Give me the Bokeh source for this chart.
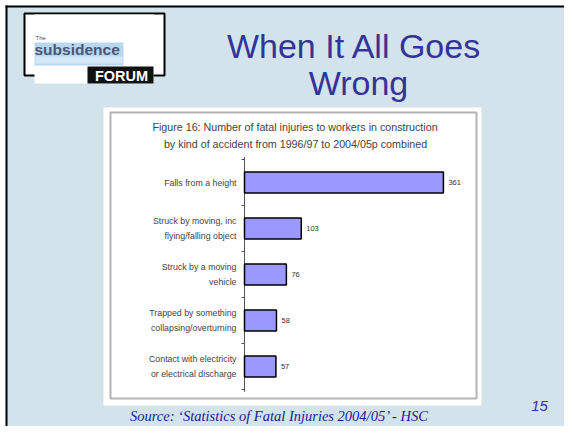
from bokeh.plotting import figure
from bokeh.models import Range1d
from bokeh.core.properties import value
from bokeh.embed import file_html
from bokeh.resources import INLINE

# ---- data ----
categories = [
    "Falls from a height",
    "Struck by moving, inc\nflying/falling object",
    "Struck by a moving\nvehicle",
    "Trapped by something\ncollapsing/overturning",
    "Contact with electricity\nor electrical discharge",
]
fatalities = [361, 103, 76, 58, 57]
title_lines = ["When It All Goes", "Wrong"]
chart_title = ["Figure 16:  Number of fatal injuries to workers in construction",
               "by kind of accident from 1996/97 to 2004/05p combined"]
source_text = "Source: \u2018Statistics of Fatal Injuries 2004/05\u2019  - HSC"
page_number = "15"

# ---- layout (canvas pixels) ----
W, H = 564, 426
AXIS_X = 244          # pixel of value 0
PX_PER_UNIT = 0.551   # pixels per fatality
CAT0_Y = 182          # pixel centre of first category
CAT_STEP = 46         # pixels per category band

BG = "#d3e3eb"
TITLE_BLUE = "#333399"

p = figure(width=W, height=H, x_range=Range1d(0, W), y_range=Range1d(H, 0),
           output_backend="svg", toolbar_location=None, min_border=0,
           outline_line_color=None)
p.axis.visible = False
p.grid.visible = False
p.background_fill_color = "white"
p.border_fill_color = "white"

p.extra_x_ranges = {"val": Range1d(-AXIS_X / PX_PER_UNIT, (W - AXIS_X) / PX_PER_UNIT)}
p.extra_y_ranges = {"cat": Range1d((H - CAT0_Y) / CAT_STEP, -CAT0_Y / CAT_STEP)}

# slide background with border (top/left edges visible)
p.quad(left=[6], right=[W + 20], top=[6], bottom=[H + 20],
       fill_color=BG, line_color=None)
p.segment(x0=[5, 6], x1=[W + 20, 6], y0=[6, 5], y1=[6, H + 20],
          line_color="black", line_width=2)

# logo
p.quad(left=[24], right=[164], top=[13], bottom=[75],
       fill_color="white", line_color="black", line_width=2)
p.quad(left=[34], right=[153], top=[14], bottom=[83], fill_color="white", line_color=None)
p.quad(left=[34], right=[123], top=[42], bottom=[65], fill_color="#b8d8f2", line_color=None)
p.quad(left=[35], right=[122], top=[56], bottom=[63], fill_color="#d6e8f6", line_color=None)
p.text(x=[35], y=[37], text=["The"], text_font=value("Liberation Sans"),
       text_font_size="6px", text_color="#555555", text_baseline="middle")
p.text(x=[34], y=[49], text=["subsidence"], text_font=value("Liberation Sans"),
       text_font_size="15.5px", text_font_style="bold", text_color="#4a5672",
       text_baseline="middle")
p.quad(left=[87], right=[153], top=[66], bottom=[83], fill_color="#111111", line_color=None)
p.text(x=[121], y=[75], text=["FORUM"], text_font=value("Liberation Sans"),
       text_font_size="14.5px", text_font_style="bold", text_color="white",
       text_align="center", text_baseline="middle")

# slide title
p.text(x=[354, 358], y=[45, 82], text=title_lines, text_font=value("Liberation Sans"),
       text_font_size="34px", text_color=TITLE_BLUE, text_align="center",
       text_baseline="middle")

# chart panel
p.quad(left=[103], right=[481], top=[107], bottom=[405], fill_color="white", line_color=None)
p.quad(left=[110], right=[476], top=[112], bottom=[398], fill_color=None,
       line_color="#b4b4b4", line_width=2)
p.text(x=[296, 295], y=[126, 143], text=chart_title, text_font=value("Liberation Sans"),
       text_font_size="10.7px", text_color="#444444", text_align="center",
       text_baseline="middle")

idx = list(range(len(categories)))
kw = dict(x_range_name="val", y_range_name="cat")

# axis line and ticks
p.segment(x0=[0], x1=[0], y0=[-0.55], y1=[len(categories) - 0.45],
          line_color="#555555", line_width=1, **kw)
bounds = [i - 0.5 for i in range(len(categories) + 1)]
p.segment(x0=[-3 / PX_PER_UNIT] * len(bounds), x1=[0] * len(bounds), y0=bounds, y1=bounds,
          line_color="#555555", line_width=1, **kw)

# bars
p.hbar(y=idx, left=0, right=fatalities, height=21 / CAT_STEP,
       fill_color="#9999ff", line_color="black", line_width=1.5, **kw)

# category labels
p.text(x=[0] * len(idx), y=idx, text=categories, x_offset=-8,
       text_font=value("Liberation Sans"), text_font_size="8.8px", text_color="#444444",
       text_align="right", text_baseline="middle", text_line_height=1.5, **kw)

# value labels
p.text(x=fatalities, y=idx, text=[str(v) for v in fatalities], x_offset=5,
       text_font=value("Liberation Sans"), text_font_size="7.5px", text_color="#333333",
       text_align="left", text_baseline="middle", **kw)

# source and page number
p.text(x=[281], y=[415], text=[source_text], text_font=value("Liberation Serif"),
       text_font_size="14.5px", text_font_style="italic", text_color="#1a1a99",
       text_align="center", text_baseline="middle")
p.text(x=[539], y=[405], text=[page_number], text_font=value("Liberation Sans"),
       text_font_size="15px", text_font_style="italic", text_color=TITLE_BLUE,
       text_align="center", text_baseline="middle")

open("out.html", "w").write(file_html(p, INLINE))
